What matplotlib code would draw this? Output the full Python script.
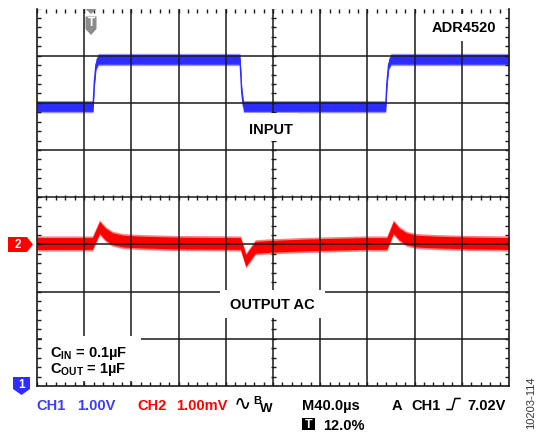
import numpy as np
import matplotlib.pyplot as plt
from matplotlib.patches import Rectangle, Polygon
from matplotlib.lines import Line2D
from matplotlib.collections import LineCollection

W, H = 539, 438

# scope readings (time in us from trigger)
ch1_t = [-48, -0.5, 0.5, 2, 4, 124, 125.5, 127, 247.5, 248.5, 250, 252, 352]
ch1_v = [7.0, 7.0, 7.5, 7.9, 8.0, 8.0, 7.3, 7.0, 7.0, 7.5, 7.9, 8.0, 8.0]

ch2_t = [-48, -1, 5, 10, 16, 25, 40, 70, 124.5, 129, 133, 137, 150, 180, 230,
         248.5, 254, 259, 265, 274, 290, 320, 352]
ch2_mv = [0.02, 0.02, 0.36, 0.22, 0.12, 0.07, 0.05, 0.03, 0.02, -0.34, -0.2, -0.06,
          -0.04, -0.01, 0.02, 0.02, 0.36, 0.22, 0.12, 0.07, 0.05, 0.03, 0.02]

CH1_CENTER = 5.08   # volts at screen centre
CH1_SCALE = 1.0     # V/div
CH2_POS = -1.0      # div
CH2_SCALE = 1.0     # mV/div

BLUE = '#2d2dff'
TXT_BLUE = '#3c3cff'
RED = '#ff0000'
GRID = '#1a1a1a'

plt.rcParams['font.family'] = ['Liberation Sans', 'DejaVu Sans']
plt.rcParams['mathtext.fontset'] = 'custom'
plt.rcParams['mathtext.rm'] = 'Liberation Sans'
plt.rcParams['mathtext.bf'] = 'Liberation Sans:bold'
plt.rcParams['mathtext.it'] = 'Liberation Sans:italic'

fig = plt.figure(figsize=(W / 100, H / 100), dpi=100)
L, R, T, B = 37, 509, 8.5, 386
ax = fig.add_axes([L / W, 1 - B / H, (R - L) / W, (B - T) / H])
ax.set_xlim(-48, 352)
ax.set_ylim(-4, 4)
ax.set_xticks([])
ax.set_yticks([])
ax.spines['top'].set_visible(False)
for s in ['left', 'right', 'bottom']:
    ax.spines[s].set_color(GRID)
    ax.spines[s].set_linewidth(1.2)


def fp(x, y):
    return x / W, 1 - y / H


# traces
y1 = (np.array(ch1_v) - CH1_CENTER) / CH1_SCALE
ax.fill_between(ch1_t, y1 - 0.13, y1 + 0.13, color=BLUE, alpha=0.5, lw=0, zorder=1)
ax.fill_between(ch1_t, y1 - 0.1, y1 + 0.1, color=BLUE, lw=0, zorder=1.1)
ax.plot(ch1_t, y1, color=BLUE, lw=1.0, zorder=1.1)

y2 = np.array(ch2_mv) / CH2_SCALE + CH2_POS
ax.fill_between(ch2_t, y2 - 0.16, y2 + 0.16, color=RED, alpha=0.5, lw=0, zorder=1)
ax.fill_between(ch2_t, y2 - 0.125, y2 + 0.125, color=RED, lw=0, zorder=1.1)

# graticule
for x in np.arange(-8, 350, 40):
    ax.axvline(x, color=GRID, lw=1.1, zorder=2)
for y in range(-3, 4):
    ax.axhline(y, color=GRID, lw=1.1, zorder=2)

pxx = 400 / (R - L)
pxy = 8 / (B - T)
segs = []
for x in np.arange(-48, 352.1, 8):
    segs.append([(x, 4), (x, 4 - 4 * pxy)])
    segs.append([(x, -4), (x, -4 + 4 * pxy)])
    segs.append([(x, -2.5 * pxy), (x, 2.5 * pxy)])
for y in np.arange(-4, 4.01, 0.2):
    segs.append([(-48, y), (-48 + 4 * pxx, y)])
    segs.append([(352, y), (352 - 4 * pxx, y)])
    segs.append([(152 - 2.5 * pxx, y), (152 + 2.5 * pxx, y)])
ax.add_collection(LineCollection(segs, colors=GRID, lw=1.0, zorder=2))

# white label boxes
for x0, y0, x1, y1b in [(245, 113, 298, 141), (220, 290, 325, 318),
                        (42, 336, 141, 381), (425, 14, 505, 41)]:
    ax.add_patch(Rectangle(fp(x0, y1b), (x1 - x0) / W, (y1b - y0) / H,
                           transform=fig.transFigure, facecolor='white',
                           edgecolor='none', zorder=3))

bold = dict(fontweight='bold', fontsize=10.5, va='baseline')
fig.text(*fp(496, 32.5), 'ADR4520', ha='right', **bold)
fig.text(*fp(271, 133.5), 'INPUT', ha='center', **bold)
fig.text(*fp(272, 309), 'OUTPUT AC', ha='center', **bold)
fig.text(*fp(50, 356.5), r'$\mathbf{C_{IN}}$ = 0.1µF', ha='left', **bold)
fig.text(*fp(50, 373.5), r'$\mathbf{C_{OUT}}$ = 1µF', ha='left', **bold)

# status bar
fig.text(*fp(36, 410), 'CH1', color=TXT_BLUE, ha='left', **bold)
fig.text(*fp(77, 410), '1.00V', color=TXT_BLUE, ha='left', **bold)
fig.text(*fp(137, 410), 'CH2', color=RED, ha='left', **bold)
fig.text(*fp(176, 410), '1.00mV', color=RED, ha='left', **bold)
fig.text(*fp(234, 404), '\u223f', fontsize=15, ha='left', va='center',
         family=['DejaVu Sans'])
fig.text(*fp(253, 404.5), 'B', fontsize=8, fontweight='bold', ha='left', va='baseline')
fig.text(*fp(260, 411.5), 'W', fontsize=9.5, fontweight='bold', ha='left', va='baseline')
fig.text(*fp(302, 410), 'M40.0µs', ha='left', **bold)
fig.text(*fp(392, 410), 'A', ha='left', **bold)
fig.text(*fp(411, 410), 'CH1', ha='left', **bold)
fig.add_artist(Line2D([fp(447, 0)[0], fp(452, 0)[0], fp(455, 0)[0], fp(460, 0)[0]],
                      [fp(0, 409.5)[1], fp(0, 409.5)[1], fp(0, 398.5)[1], fp(0, 398.5)[1]],
                      transform=fig.transFigure, color='black', lw=1.1))
fig.text(*fp(467, 410), '7.02V', ha='left', **bold)
fig.add_artist(Rectangle(fp(302, 430), 13 / W, 12 / H, transform=fig.transFigure,
                         facecolor='black', edgecolor='none'))
fig.text(*fp(308.5, 424.5), 'T', color='white', fontsize=9, fontweight='bold',
         ha='center', va='center')
fig.text(*fp(323, 430), '12.0%', ha='left', **bold)
fig.text(*fp(531, 403), '10203-114', rotation=90, fontsize=8, color='#333333',
         ha='center', va='center')

# channel / trigger markers
def marker(pts, color):
    fig.add_artist(Polygon([fp(x, y) for x, y in pts], closed=True,
                           transform=fig.transFigure, facecolor=color,
                           edgecolor='none'))

marker([(8, 237), (27, 237), (33, 244.5), (27, 252), (8, 252)], RED)
fig.text(*fp(17.5, 244.5), '2', color='white', fontsize=8.5, fontweight='bold',
         ha='center', va='center')
marker([(13, 377), (30, 377), (30, 389), (21.5, 395), (13, 389)], BLUE)
fig.text(*fp(21.5, 384.5), '1', color='white', fontsize=8.5, fontweight='bold',
         ha='center', va='center')
marker([(85.5, 9), (96.5, 9), (91, 14)], '#8c8c8c')
marker([(85.5, 16.5), (96.5, 16.5), (96.5, 29), (91, 35), (85.5, 29)], '#8c8c8c')
fig.text(*fp(91, 23), 'T', color='white', fontsize=8.5, fontweight='bold',
         ha='center', va='center')

plt.savefig('out.png', dpi=100)
